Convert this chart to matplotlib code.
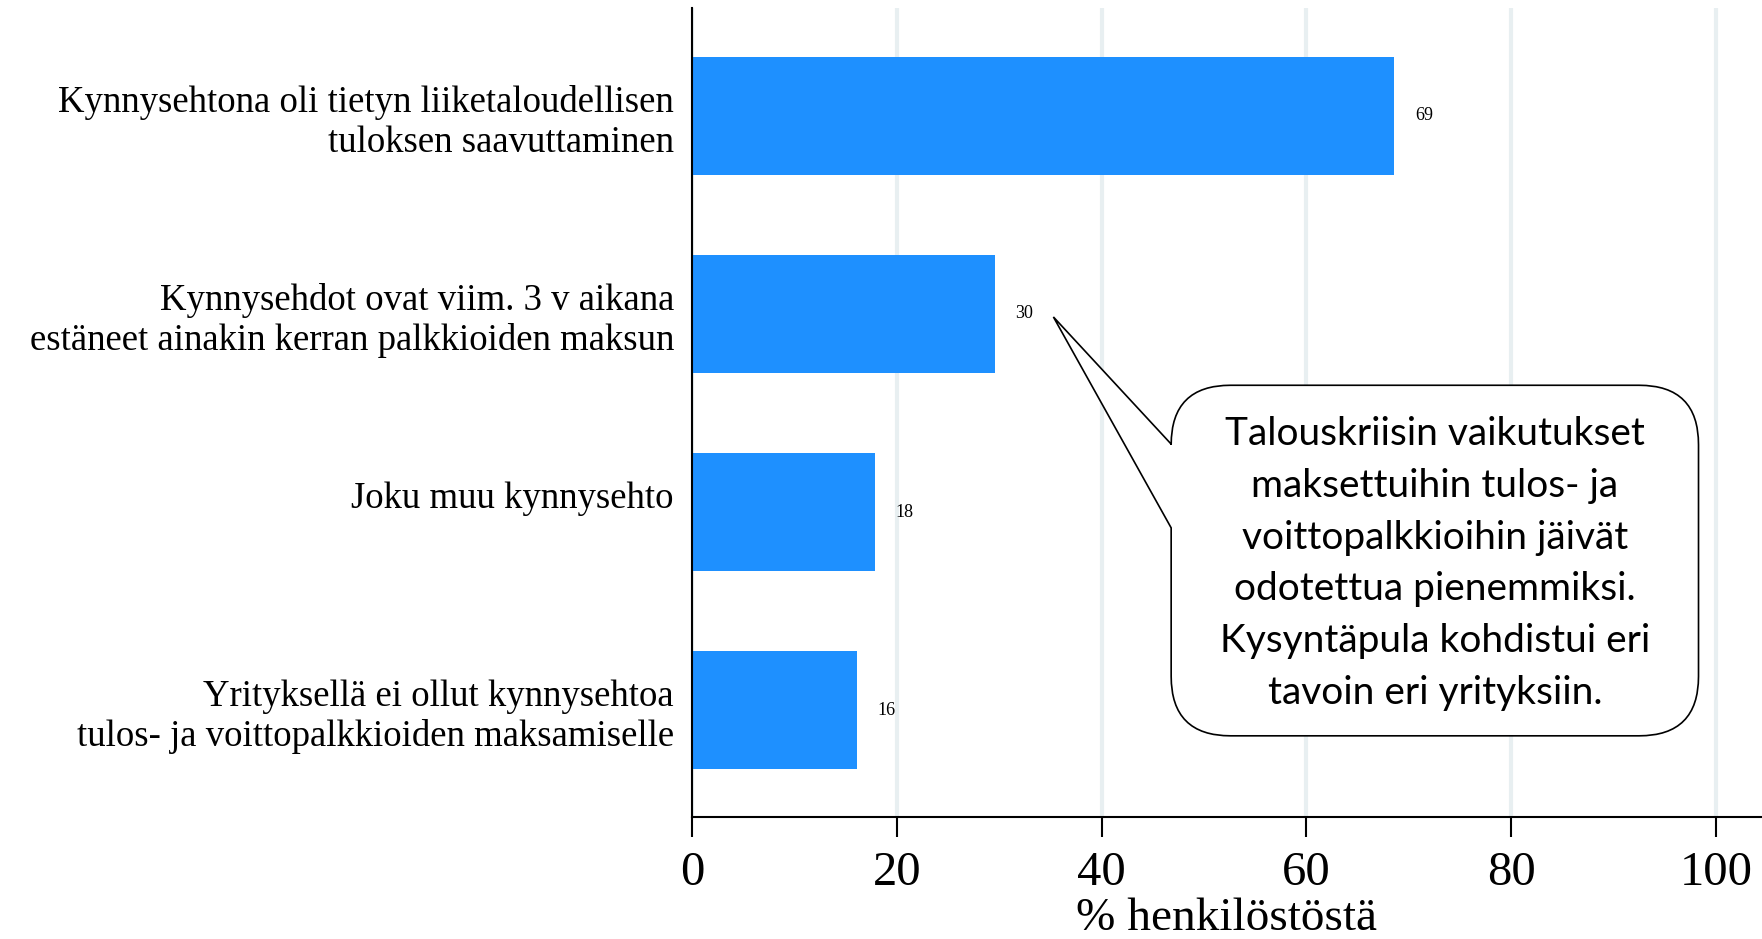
import matplotlib
matplotlib.use("Agg")
import matplotlib.pyplot as plt
from matplotlib.path import Path
from matplotlib.patches import PathPatch

categories = [
    "Kynnysehtona oli tietyn liiketaloudellisen\ntuloksen saavuttaminen",
    "Kynnysehdot ovat viim. 3 v aikana\nestäneet ainakin kerran palkkioiden maksun",
    "Joku muu kynnysehto\n ",
    "Yrityksellä ei ollut kynnysehtoa\ntulos- ja voittopalkkioiden maksamiselle",
]
values = [68.6, 29.6, 17.9, 16.1]
x_ticks = [0, 20, 40, 60, 80, 100]
x_label = "% henkilöstöstä"
bubble_text = ("Talouskriisin vaikutukset\nmaksettuihin tulos- ja\n"
               "voittopalkkioihin jäivät\nodotettua pienemmiksi.\n"
               "Kysyntäpula kohdistui eri\ntavoin eri yrityksiin.")

serif = "Liberation Serif"
bar_color = "#1e90ff"

fig = plt.figure(figsize=(17.62, 9.39), dpi=100)
ax = fig.add_axes([0.3927, 0.1299, 0.6073, 0.8616])

pos = list(range(len(categories)))
ax.barh(pos, values, height=0.6, color=bar_color, zorder=2)

for p, v in zip(pos, values):
    ax.text(v + 2, p, f"{v:.0f}", ha="left", va="center",
            fontsize=13, family=serif, zorder=3)

ax.set_xlim(0, 104.5)
ax.set_ylim(3.54, -0.545)
ax.set_xticks(x_ticks)
ax.set_xticklabels([str(t) for t in x_ticks], family=serif, fontsize=35)
ax.set_yticks(pos)
ax.set_yticklabels(categories, family=serif, fontsize=26.5)
ax.tick_params(axis="x", length=14.4, width=1.5, pad=10)
ax.tick_params(axis="y", length=0, pad=13)
ax.set_xlabel(x_label, family=serif, fontsize=34, labelpad=2)

ax.grid(axis="x", color="#e8eff1", linewidth=3, zorder=0)
ax.set_axisbelow(True)
for s in ["top", "right"]:
    ax.spines[s].set_visible(False)
for s in ["left", "bottom"]:
    ax.spines[s].set_linewidth(1.5)

# speech bubble pointing at the "30" label
x0, x1, y0, y1 = 46.8, 98.3, 1.36, 3.13
rx, ry = 5.8, 0.30
tip = (35.3, 1.015)
t_top, t_bot = 1.657, 2.08
verts = [
    (x0 + rx, y0), (x1 - rx, y0),
    (x1, y0), (x1, y0 + ry),
    (x1, y1 - ry),
    (x1, y1), (x1 - rx, y1),
    (x0 + rx, y1),
    (x0, y1), (x0, y1 - ry),
    (x0, t_bot), tip, (x0, t_top),
    (x0, y0 + ry),
    (x0, y0), (x0 + rx, y0),
    (x0 + rx, y0),
]
codes = [Path.MOVETO, Path.LINETO,
         Path.CURVE3, Path.CURVE3,
         Path.LINETO,
         Path.CURVE3, Path.CURVE3,
         Path.LINETO,
         Path.CURVE3, Path.CURVE3,
         Path.LINETO, Path.LINETO, Path.LINETO,
         Path.LINETO,
         Path.CURVE3, Path.CURVE3,
         Path.CLOSEPOLY]
bubble = PathPatch(Path(verts, codes), facecolor="white", edgecolor="black",
                   linewidth=1.2, zorder=4, clip_on=False)
ax.add_patch(bubble)
ax.text((x0 + x1) / 2, 2.26, bubble_text, ha="center", va="center",
        fontsize=28, family="Lato", linespacing=1.55, zorder=5)

fig.savefig("out.png", dpi=100)
